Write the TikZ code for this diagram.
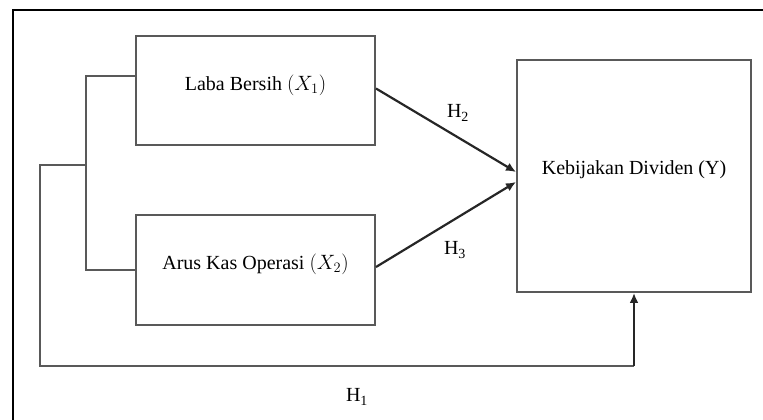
\documentclass[tikz,border=0pt]{standalone}
\usepackage{fontspec}
\setmainfont{Liberation Serif}
\usetikzlibrary{arrows.meta}

\begin{document}
\begin{tikzpicture}[x=1pt,y=1pt,
  font=\fontsize{20}{24}\selectfont,
  varbox/.style={draw=black!65,line width=2pt,inner sep=0pt,text depth=16pt},
  conn/.style={draw=black!65,line width=2pt},
  hypo/.style={draw=black!85,line width=2.2pt,-{Latex[length=10pt,width=9pt]}}]
  \useasboundingbox (0,0) rectangle (763,420);
  % frame
  \draw[line width=1.6pt] (763,410)--(13,410)--(13,0);
  % variables
  \node[varbox,minimum width=239pt,minimum height=109pt] (laba) at (255.5,329.5) {Laba Bersih $(X_1)$};
  \node[varbox,minimum width=239pt,minimum height=110pt] (arus) at (255.5,150) {Arus Kas Operasi $(X_2)$};
  \node[varbox,minimum width=234pt,minimum height=232pt] (divid) at (634,244) {Kebijakan Dividen (Y)};
  % bracket on the left
  \coordinate (split) at (86,255);
  \coordinate (low) at (40,54);
  \draw[conn] ([yshift=14pt]laba.west) -| (split) |- (arus.west);
  \draw[conn] (split) -| (low) -- (634,54);
  \draw[hypo] (634,54) -- (divid.south);
  % hypotheses
  \draw[hypo] ([yshift=2pt]laba.east) -- ([yshift=4pt]divid.west);
  \draw[hypo] ([yshift=3pt]arus.east) -- ([yshift=-6pt]divid.west);
  \node (h2) at (458,307) {H\textsubscript{2}};
  \node (h3) at (455,170) {H\textsubscript{3}};
  \node (h1) at (357,23) {H\textsubscript{1}};
\end{tikzpicture}
\end{document}
